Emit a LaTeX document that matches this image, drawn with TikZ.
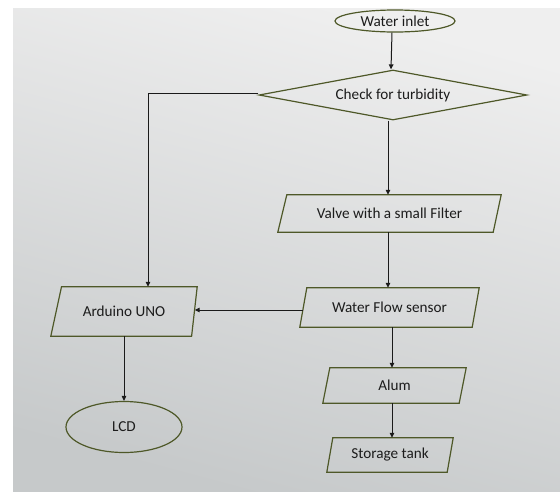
\documentclass[tikz,border=0pt]{standalone}
\usepackage{fontspec}
\setmainfont{Carlito}
\usetikzlibrary{shapes.geometric,arrows.meta,calc}
\definecolor{olive}{HTML}{4E5828}
\definecolor{ink}{HTML}{1A1A1A}
\definecolor{txt}{HTML}{1C1C1C}
\definecolor{bgtop}{HTML}{EFEFEF}
\definecolor{bgbot}{HTML}{C6C9CA}
\tikzset{
  txtstyle/.style={text=txt, font=\fontsize{15.2}{17}\selectfont, inner sep=0pt},
  shp/.style={draw=olive, line width=1.2pt, txtstyle},
  oval/.style={shp, ellipse},
  decide/.style={shp, diamond, aspect=5.36},
  parabox/.style={txtstyle, rectangle},
  outline/.style={draw=olive, line width=1.2pt, line join=miter},
  conn/.style={draw=ink, line width=1pt, -{Triangle[length=5pt,width=4.5pt]}},
}
% quadrilateral: top-left shifted right by #2, bottom-right shifted left by #3
\newcommand\paraoutline[3]{\draw[outline] ([xshift=#2]#1.north west) -- (#1.north east) -- ([xshift=-#3]#1.south east) -- (#1.south west) -- cycle;}
\begin{document}
\begin{tikzpicture}[x=1pt,y=-1pt]
\useasboundingbox (0,0) rectangle (560,491);
\fill[white] (0,0) rectangle (560,491);
\shade[top color=bgtop, bottom color=bgbot, shading angle=-15] (13,8) rectangle (560,491);

\node[oval, minimum width=120, minimum height=22] (inlet) at (395,21) {Water inlet};
\node[decide, minimum width=268, minimum height=50] (chk) at (393,95) {Check for turbidity};

\node[parabox, minimum width=223, minimum height=37] (valve) at (389.5,213.5) {Valve with a small Filter};
\paraoutline{valve}{9pt}{8pt}
\node[parabox, minimum width=179, minimum height=39] (flow) at (389.5,307.5) {Water Flow sensor};
\paraoutline{flow}{7pt}{7pt}
\node[parabox, minimum width=146, minimum height=49] (ard) at (124,311.5) {Arduino UNO};
\paraoutline{ard}{10.7pt}{5.6pt}
\node[oval, minimum width=116, minimum height=51] (lcd) at (124,427) {LCD};
\node[parabox, minimum width=143, minimum height=35] (alum) at (394.5,385.5) {Alum};
\paraoutline{alum}{7pt}{7pt}
\node[parabox, minimum width=126, minimum height=34] (tank) at (390,455) {Storage tank};
\paraoutline{tank}{6pt}{6pt}

\draw[conn] ([xshift=-3pt]inlet.south) -- ([xshift=-2pt]chk.north);
\draw[conn] ([xshift=-5pt]chk.south) -- ([xshift=-1.5pt]valve.north);
\draw[conn] ([xshift=-1.5pt]valve.south) -- ([xshift=-1.5pt]flow.north);
\draw[conn] ([yshift=2pt]chk.west) -| ([xshift=24pt]ard.north);
\draw[conn] ([xshift=3.5pt,yshift=-2.5pt]flow.west) -- ([xshift=-2.5pt,yshift=1.5pt]ard.east);
\draw[conn] (ard.south) -- (lcd.north);
\draw[conn] ([xshift=2.5pt]flow.south) -- ([xshift=-2.5pt]alum.north);
\draw[conn] ([xshift=-2.5pt]alum.south) -- ([xshift=2pt]tank.north);
\end{tikzpicture}
\end{document}
